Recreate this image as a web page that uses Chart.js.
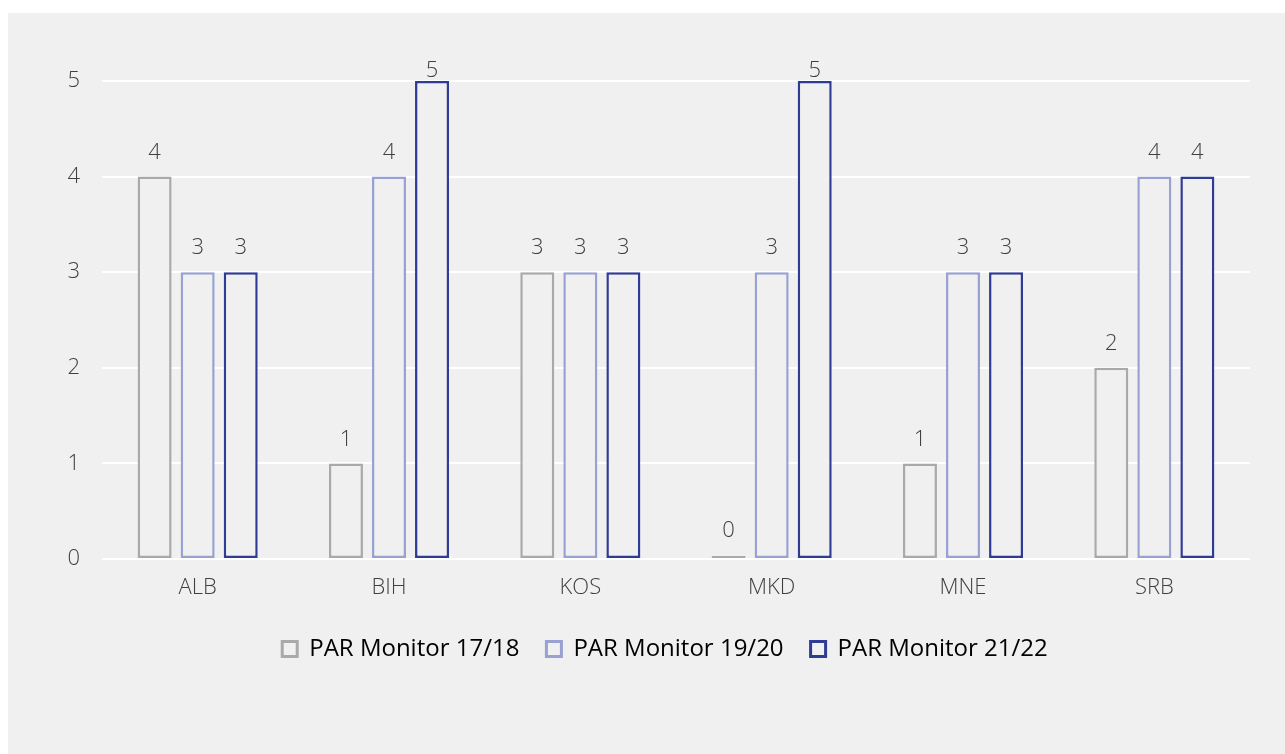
<!DOCTYPE html>
<html>
<head>
<meta charset="utf-8">
<script src="https://cdn.jsdelivr.net/npm/chart.js@4"></script>
<style>
html,body{margin:0;padding:0;background:#ffffff;}
#wrap{position:absolute;left:0;top:0;width:1285px;height:754px;}
</style>
</head>
<body>
<div id="wrap"><canvas id="c" width="1285" height="754"></canvas></div>
<script>
const categories = ['ALB', 'BIH', 'KOS', 'MKD', 'MNE', 'SRB'];
const seriesNames = ['PAR Monitor 17/18', 'PAR Monitor 19/20', 'PAR Monitor 21/22'];
const par1718 = [4, 1, 3, 0, 1, 2];
const par1920 = [3, 4, 3, 3, 3, 4];
const par2122 = [3, 5, 3, 5, 3, 4];
const yTicks = [0, 1, 2, 3, 4, 5];

const colors = ['#a9a9a9', '#98a1d2', '#2f3c96'];
const panel = '#f0f0f0';
const textColor = '#404040';

const panelPlugin = {
  id: 'panel',
  beforeDraw(chart) {
    const ctx = chart.ctx;
    ctx.save();
    ctx.fillStyle = '#ffffff';
    ctx.fillRect(0, 0, chart.width, chart.height);
    ctx.fillStyle = panel;
    ctx.fillRect(8, 13, chart.width - 8, chart.height - 13);
    ctx.restore();
  }
};

// move the legend's centre slightly to the right, as in the reference
const legendShift = {
  id: 'legendShift',
  afterLayout(chart) {
    const lg = chart.legend;
    if (!lg) return;
    const dx = (chart.chartArea.left + chart.chartArea.right) / 2 - 11 - (lg.left + lg.right) / 2;
    lg.left += dx;
    lg.right += dx;
  }
};

const labelPlugin = {
  id: 'valueLabels',
  afterDatasetsDraw(chart) {
    const ctx = chart.ctx;
    ctx.save();
    ctx.font = '300 22px "Open Sans"';
    ctx.fillStyle = textColor;
    ctx.textAlign = 'center';
    ctx.textBaseline = 'middle';
    const minY = chart.chartArea.top - 10;
    chart.data.datasets.forEach((ds, i) => {
      const meta = chart.getDatasetMeta(i);
      meta.data.forEach((bar, j) => {
        const top = Math.min(bar.y, bar.base - (ds.minBarLength || 0));
        ctx.fillText(String(ds.data[j]), bar.x, Math.max(top - 24, minY));
      });
    });
    ctx.restore();
  }
};

const data = {
  labels: categories,
  datasets: [par1718, par1920, par2122].map((vals, i) => ({
    label: seriesNames[i],
    data: vals,
    backgroundColor: panel,
    borderColor: colors[i],
    borderWidth: 2.5,
    borderSkipped: false,
    minBarLength: i === 0 ? 3 : 0,
    categoryPercentage: 0.675,
    barPercentage: 0.79
  }))
};

new Chart(document.getElementById('c'), {
  type: 'bar',
  data: data,
  options: {
    responsive: false,
    animation: false,
    devicePixelRatio: 1,
    layout: { padding: { top: 81, left: 0, right: 35, bottom: 83 } },
    plugins: {
      tooltip: { enabled: false },
      legend: {
        position: 'bottom',
        labels: {
          color: '#000000',
          font: { family: '"Open Sans"', size: 24 },
          boxWidth: 15,
          boxHeight: 15,
          padding: 27,
          generateLabels(chart) {
            return chart.data.datasets.map((ds, i) => ({
              text: ds.label,
              fillStyle: panel,
              strokeStyle: ds.borderColor,
              lineWidth: 3,
              fontColor: '#000000',
              datasetIndex: i,
              hidden: false
            }));
          }
        }
      }
    },
    scales: {
      x: {
        grid: { display: false, drawTicks: false },
        border: { display: false },
        ticks: { color: textColor, font: { family: '"Open Sans"', weight: 300, size: 22 }, padding: 16 },
        afterFit(s) { s.height = 51; }
      },
      y: {
        min: yTicks[0],
        max: yTicks[yTicks.length - 1],
        afterBuildTicks(s) { s.ticks = yTicks.map(v => ({ value: v })); },
        grid: { color: '#ffffff', lineWidth: 2, drawTicks: false },
        border: { display: false },
        ticks: { color: textColor, font: { family: '"Open Sans"', weight: 300, size: 22 }, padding: 22 },
        afterFit(s) { s.width = 102; }
      }
    }
  },
  plugins: [panelPlugin, legendShift, labelPlugin]
});
</script>
</body>
</html>
